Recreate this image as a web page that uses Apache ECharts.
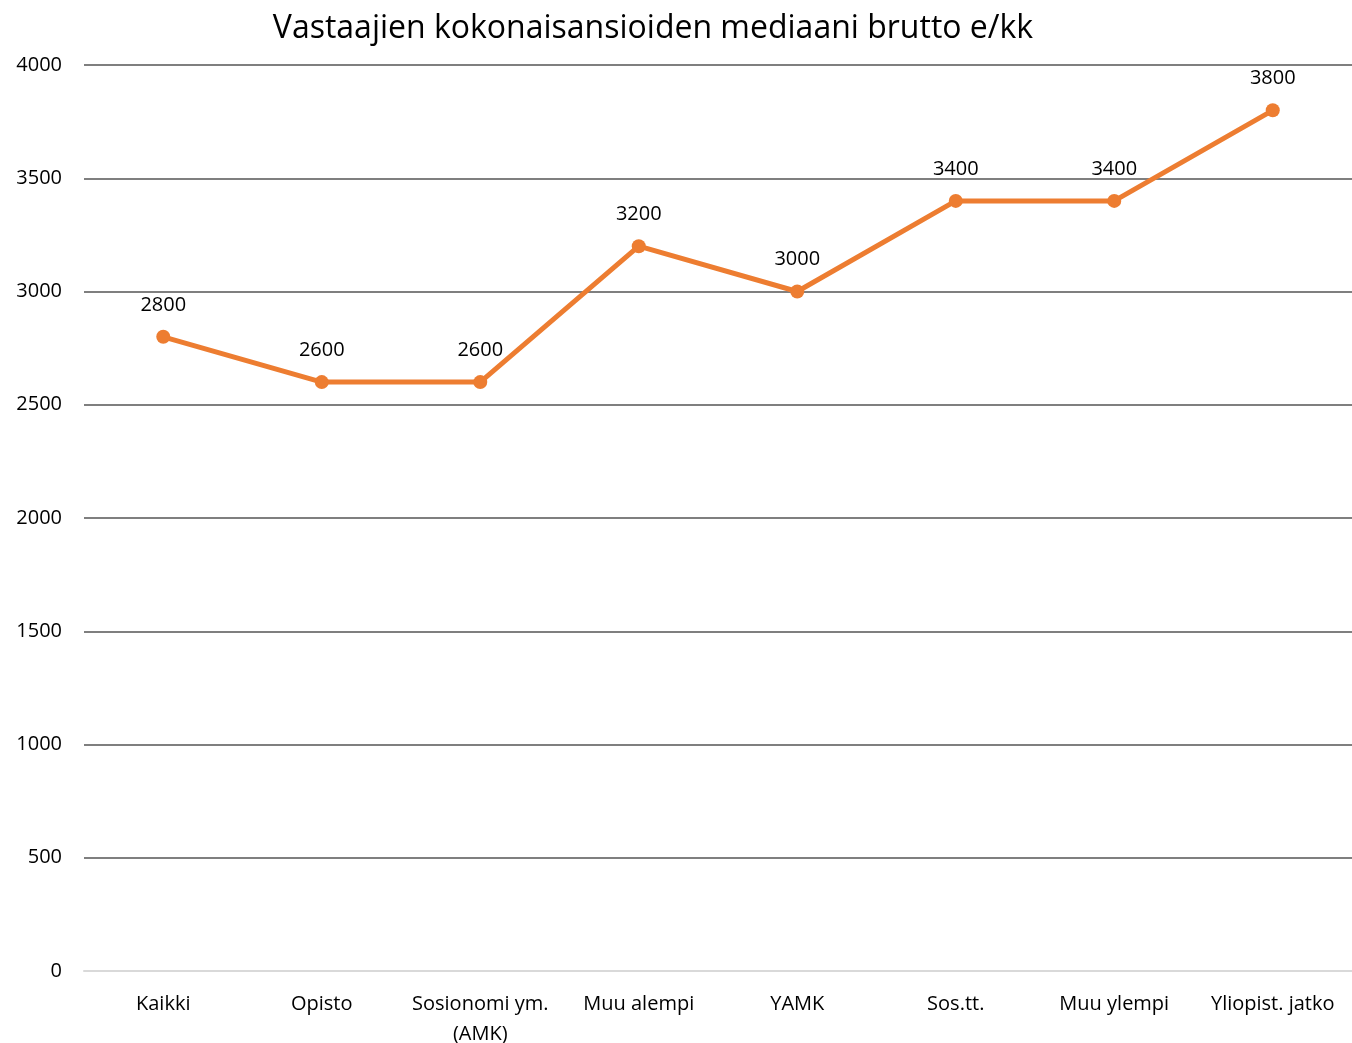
<!DOCTYPE html>
<html>
<head>
<meta charset="utf-8">
<script src="https://cdn.jsdelivr.net/npm/echarts@6/dist/echarts.min.js"></script>
<style>
html, body { margin: 0; padding: 0; background: #fff; }
#main { width: 1352px; height: 1043px; }
</style>
</head>
<body>
<div id="main"></div>
<script>
var categories = ['Kaikki', 'Opisto', 'Sosionomi ym.\n(AMK)', 'Muu alempi', 'YAMK', 'Sos.tt.', 'Muu ylempi', 'Yliopist. jatko'];
var values = [2800, 2600, 2600, 3200, 3000, 3400, 3400, 3800];

var myChart = echarts.init(document.getElementById('main'));
var font = '"Open Sans", sans-serif';
option = {
    backgroundColor: '#fff',
    animation: false,
    title: {
        text: 'Vastaajien kokonaisansioiden mediaani brutto e/kk',
        left: 648,
        textAlign: 'center',
        top: 8,
        textStyle: {
            fontFamily: font,
            fontSize: 32,
            fontWeight: 'normal',
            color: '#000'
        }
    },
    grid: {
        left: 84,
        right: 0,
        top: 65,
        bottom: 72,
        outerBoundsMode: 'none'
    },
    xAxis: {
        type: 'category',
        data: categories,
        boundaryGap: true,
        axisLine: { show: true, lineStyle: { color: '#d9d9d9', width: 2 } },
        axisTick: { show: false },
        axisLabel: {
            interval: 0,
            margin: 18,
            lineHeight: 30,
            fontFamily: font,
            fontSize: 20,
            color: '#000'
        }
    },
    yAxis: {
        type: 'value',
        min: 0,
        max: 4000,
        interval: 500,
        axisLine: { show: false },
        axisTick: { show: false },
        axisLabel: {
            margin: 22,
            fontFamily: font,
            fontSize: 20,
            color: '#000',
            formatter: function (v) { return String(v); }
        },
        splitLine: {
            lineStyle: { color: '#7f7f7f', width: 2 }
        }
    },
    series: [{
        type: 'line',
        data: values,
        symbol: 'circle',
        symbolSize: 14,
        lineStyle: { color: '#ed7d31', width: 5 },
        itemStyle: { color: '#ed7d31' },
        label: {
            show: true,
            position: 'top',
            distance: 15,
            fontFamily: font,
            fontSize: 20,
            color: '#000'
        }
    }]
};
myChart.setOption(option);
</script>
</body>
</html>
